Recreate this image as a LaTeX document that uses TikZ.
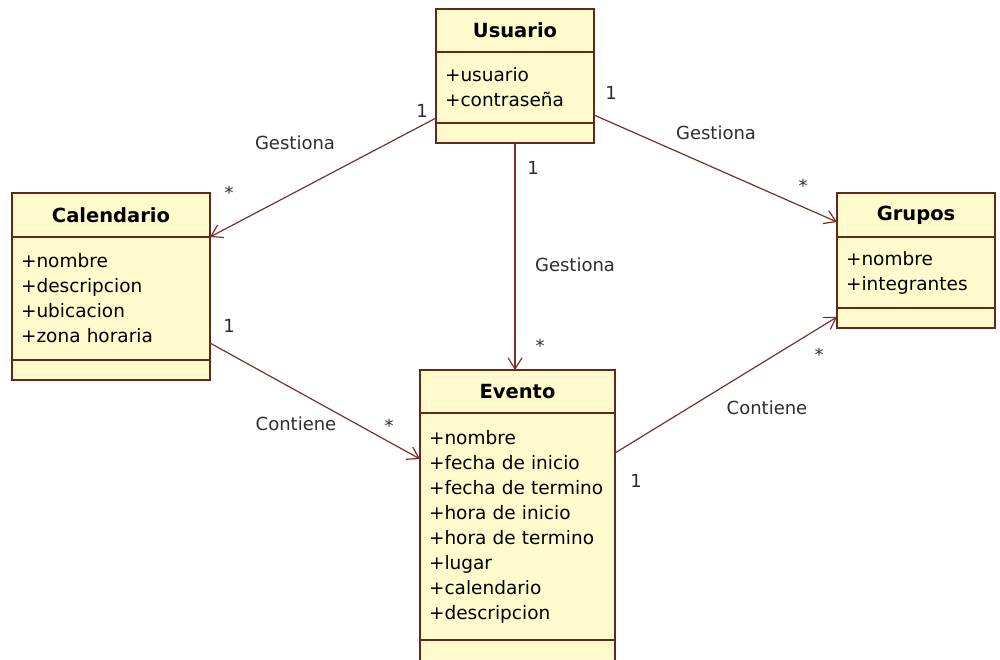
\documentclass[tikz,border=0pt]{standalone}
\usepackage{fontspec}
\setmainfont{DejaVu Sans}
\usetikzlibrary{positioning,arrows.meta}

\definecolor{clsfill}{RGB}{255,251,204}
\definecolor{clsline}{RGB}{98,40,25}
\definecolor{asocline}{RGB}{122,46,46}
\definecolor{lbltext}{RGB}{45,45,45}

\tikzset{
  clsbox/.style={draw=clsline, fill=clsfill, line width=1.4pt, outer sep=0pt, inner sep=0pt},
  clstitle/.style={clsbox, font=\fontsize{19.5}{23}\selectfont\bfseries},
  clsattr/.style={clsbox, inner xsep=9pt, align=left, font=\fontsize{18.5}{25}\selectfont},
  clsfoot/.style={clsbox, minimum height=20pt},
  asoc/.style={draw=asocline, line width=1.2pt, -{Straight Barb[length=11pt,width=14pt]}},
  mult/.style={text=lbltext, inner sep=0pt, font=\fontsize{18}{20}\selectfont},
}

\begin{document}
\begin{tikzpicture}[x=1pt,y=-1pt]
\useasboundingbox (0,0) rectangle (1000,659);

% Usuario
\node[clstitle, minimum width=158pt, minimum height=43pt, anchor=north west] (usr) at (436,9) {Usuario};
\node[clsattr, text width=140pt, minimum height=71pt, below=0pt of usr] (usr-a) {+usuario\\+contraseña};
\node[clsfoot, minimum width=158pt, below=0pt of usr-a] (usr-f) {};

% Calendario
\node[clstitle, minimum width=198pt, minimum height=44pt, anchor=north west] (cal) at (12,193) {Calendario};
\node[clsattr, text width=180pt, minimum height=123pt, below=0pt of cal] (cal-a) {+nombre\\+descripcion\\+ubicacion\\+zona horaria};
\node[clsfoot, minimum width=198pt, below=0pt of cal-a] (cal-f) {};

% Grupos
\node[clstitle, minimum width=158pt, minimum height=44pt, anchor=north west] (grp) at (837,193) {Grupos};
\node[clsattr, text width=140pt, minimum height=71pt, below=0pt of grp] (grp-a) {+nombre\\+integrantes};
\node[clsfoot, minimum width=158pt, below=0pt of grp-a] (grp-f) {};

% Evento
\node[clstitle, minimum width=195pt, minimum height=43pt, anchor=north west] (evt) at (420,370) {Evento};
\node[clsattr, text width=177pt, minimum height=227pt, below=0pt of evt] (evt-a) {+nombre\\+fecha de inicio\\+fecha de termino\\+hora de inicio\\+hora de termino\\+lugar\\+calendario\\+descripcion};
\node[clsfoot, minimum width=195pt, minimum height=22pt, below=0pt of evt-a] (evt-f) {};

% asociaciones
\draw[asoc] ([yshift=5pt]usr-a.south west) -- (cal.south east);
\draw[asoc] ([yshift=8pt]usr-a.south east) -- ([yshift=-7pt]grp.west);
\draw[asoc] (usr-f.south) -- (usr-f.south |- evt.north);
\draw[asoc] ([yshift=17pt]cal-a.south east) -- ([yshift=-46pt]evt-a.north west);
\draw[asoc] ([yshift=-40pt]evt-a.north east) -- ([yshift=-9pt]grp-f.north west);

% etiquetas
\node[mult] (m1) at (422,111) {1};
\node[mult] (m2) at (229,193) {*};
\node[mult] (g1) at (295,143) {Gestiona};
\node[mult] (m3) at (611,93) {1};
\node[mult] (m4) at (803,186) {*};
\node[mult] (g2) at (716,133) {Gestiona};
\node[mult] (m5) at (533,168) {1};
\node[mult] (g3) at (575,265) {Gestiona};
\node[mult] (m6) at (540,346) {*};
\node[mult] (m7) at (229,326) {1};
\node[mult] (c1) at (296,424) {Contiene};
\node[mult] (m8) at (389,426) {*};
\node[mult] (m9) at (636,481) {1};
\node[mult] (c2) at (767,408) {Contiene};
\node[mult] (m10) at (819,355) {*};
\end{tikzpicture}
\end{document}
